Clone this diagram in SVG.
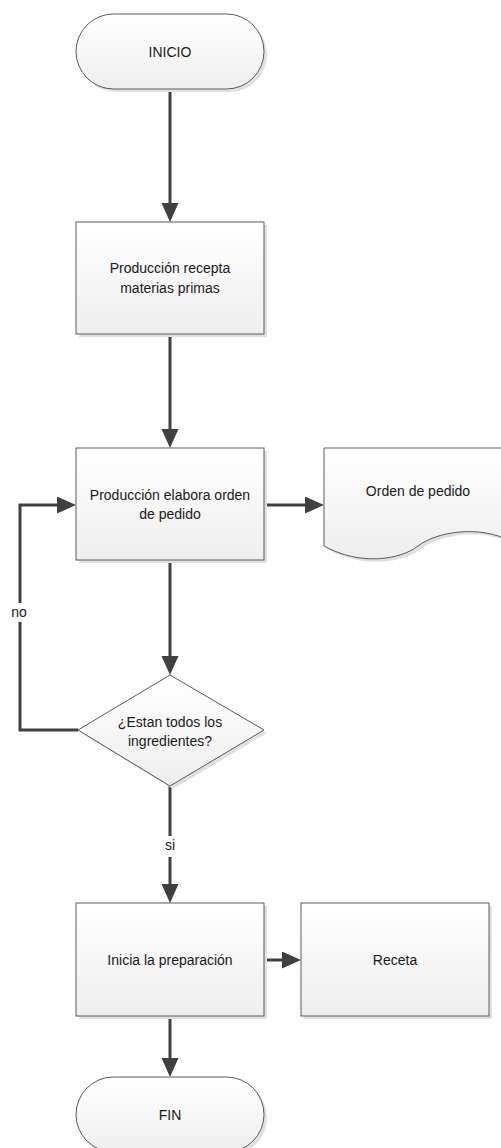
<svg xmlns="http://www.w3.org/2000/svg" width="501" height="1148" viewBox="0 0 501 1148">
  <defs>
    <linearGradient id="fillGrad" x1="0" y1="0" x2="0" y2="1">
      <stop offset="0" stop-color="#ffffff"/>
      <stop offset="1" stop-color="#eeeeee"/>
    </linearGradient>
    <marker id="arrow" markerUnits="userSpaceOnUse" markerWidth="20" markerHeight="18" refX="2" refY="8.5" orient="auto">
      <path d="M0,0 L19,8.5 L0,17 z" fill="#404040"/>
    </marker>
    <style>
      .shape { fill: url(#fillGrad); stroke: #5a5a5a; stroke-width: 1; }
      .shadow { fill: #e0e0e0; stroke: none; }
      .conn { fill: none; stroke: #404040; stroke-width: 3; marker-end: url(#arrow); }
      text { font-family: "Liberation Sans", Arial, sans-serif; font-size: 14px; fill: #1a1a1a; text-anchor: middle; }
      .lbl-bg { fill: #ffffff; }
    </style>
  </defs>

  <!-- connectors -->
  <g id="connectors">
    <path class="conn" d="M170,89 L170,205"/>
    <path class="conn" d="M170,334 L170,431"/>
    <path class="conn" d="M170,560 L170,658"/>
    <path class="conn" d="M264,505 L307,505"/>
    <path class="conn" d="M78,730 L20,730 L20,505 L59,505"/>
    <path class="conn" d="M170,786 L170,886"/>
    <path class="conn" d="M264,960 L284,960"/>
    <path class="conn" d="M170,1016 L170,1060"/>
    <!-- branch labels -->
    <rect class="lbl-bg" x="8" y="603" width="24" height="19"/>
    <text x="19" y="617">no</text>
    <rect class="lbl-bg" x="160" y="836" width="20" height="21"/>
    <text x="170" y="850">si</text>
  </g>

  <!-- start terminator -->
  <g id="inicio">
    <rect class="shadow" x="79" y="17" width="188" height="75" rx="37.5"/>
    <rect class="shape" x="76" y="14" width="188" height="75" rx="37.5"/>
    <text x="170" y="57">INICIO</text>
  </g>

  <g id="recepta">
    <rect class="shadow" x="79" y="225" width="188" height="112"/>
    <rect class="shape" x="76" y="222" width="188" height="112"/>
    <text x="170" y="273">Producción recepta</text>
    <text x="170" y="293">materias primas</text>
  </g>

  <g id="elabora">
    <rect class="shadow" x="79" y="451" width="188" height="112"/>
    <rect class="shape" x="76" y="448" width="188" height="112"/>
    <text x="170" y="500">Producción elabora orden</text>
    <text x="170" y="519">de pedido</text>
  </g>

  <!-- document shape -->
  <g id="orden">
    <path class="shadow" d="M327,451 L515,451 L515,545 C483,527 439,535 421,549 C403,563 363,569 327,549 z"/>
    <path class="shape" d="M324,448 L512,448 L512,542 C480,524 436,532 418,546 C400,560 360,566 324,546 z"/>
    <text x="418" y="496">Orden de pedido</text>
  </g>

  <g id="decision">
    <polygon class="shadow" points="173,678 267,733 173,789 81,733"/>
    <polygon class="shape" points="170,675 264,730 170,786 78,730"/>
    <text x="170" y="727">¿Estan todos los</text>
    <text x="170" y="746">ingredientes?</text>
  </g>

  <g id="preparacion">
    <rect class="shadow" x="79" y="906" width="188" height="113"/>
    <rect class="shape" x="76" y="903" width="188" height="113"/>
    <text x="170" y="965">Inicia la preparación</text>
  </g>

  <g id="receta">
    <rect class="shadow" x="304" y="906" width="188" height="113"/>
    <rect class="shape" x="301" y="903" width="188" height="113"/>
    <text x="395" y="965">Receta</text>
  </g>

  <!-- end terminator -->
  <g id="fin">
    <rect class="shadow" x="79" y="1080" width="188" height="75" rx="37.5"/>
    <rect class="shape" x="76" y="1077" width="188" height="75" rx="37.5"/>
    <text x="170" y="1120">FIN</text>
  </g>
</svg>
